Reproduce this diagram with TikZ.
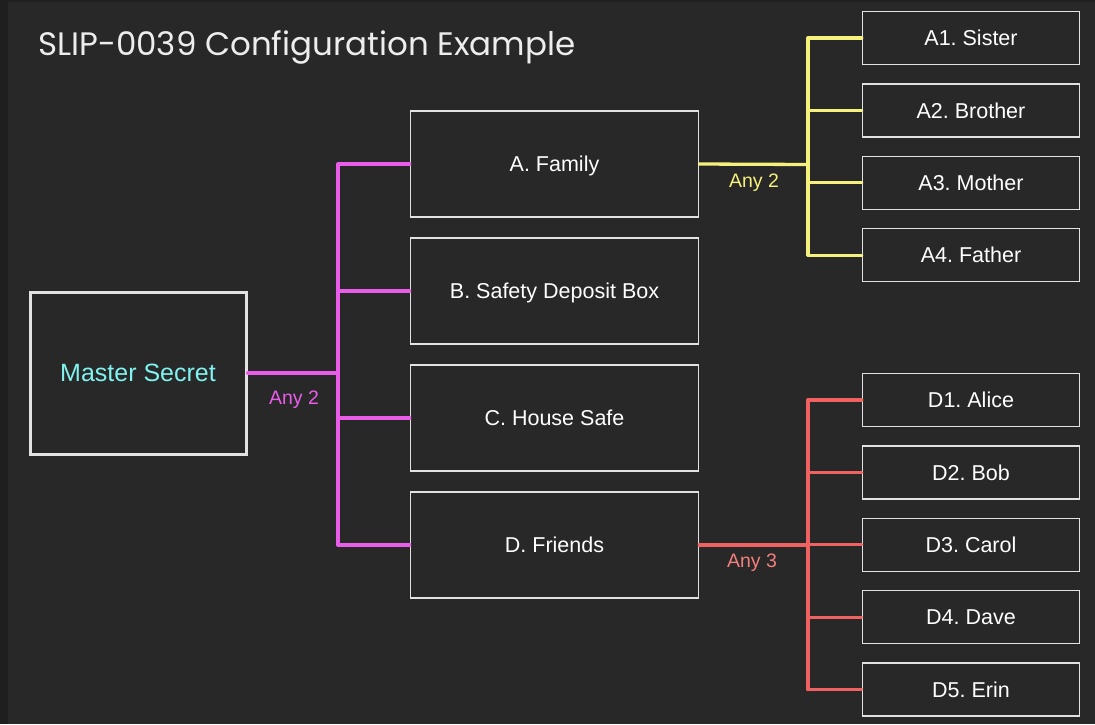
\documentclass[tikz,border=0pt]{standalone}
\usepackage{fontspec}
\setmainfont{Liberation Sans}
\newfontfamily\titlefont{Poppins}
\usetikzlibrary{positioning}
\frenchspacing

\definecolor{bgdark}{HTML}{1F1F1F}
\definecolor{bgpanel}{HTML}{282828}
\definecolor{boxline}{HTML}{E2E2E2}
\definecolor{secretcyan}{HTML}{80F2F0}
\definecolor{busmagenta}{HTML}{EA5CEA}
\definecolor{busyellow}{HTML}{F6F07C}
\definecolor{busred}{HTML}{F06262}
\definecolor{labelred}{HTML}{F47E7E}

\tikzset{
  share/.style={draw=boxline,line width=1.5pt,fill=bgpanel,text=white,
    font=\fontsize{21.5}{24}\selectfont,inner sep=0pt,
    text height=15.4pt,text depth=0pt},
  group/.style={share,minimum width=288pt,minimum height=106pt},
  member/.style={share,minimum width=217pt,minimum height=53pt},
  master/.style={share,line width=3pt,minimum width=216pt,minimum height=162pt,
    text=secretcyan,font=\fontsize{25}{28}\selectfont,text height=17.9pt},
  bus/.style={line width=3.3pt,line cap=round,line join=round},
  rule/.style={font=\fontsize{19.5}{22}\selectfont}
}

\begin{document}
\begin{tikzpicture}[x=1pt,y=-1pt,node distance=127pt,on grid]
    % page and panel
    \fill[bgdark] (0,0) rectangle (1095,724);
    \fill[bgpanel] (8,2) rectangle (1095,724);
    \useasboundingbox (0,0) rectangle (1095,724);

    \node[anchor=base west,text=white!93!black,inner sep=0pt,
      font=\titlefont\fontsize{32.5}{36}\selectfont] (title) at (38,55)
      {SLIP-0039 Configuration Example};

    % master secret and its four groups
    \node[master] (ms) at (138,373) {Master Secret};
    \node[group] (gb) at (554.5,291) {B. Safety Deposit Box};
    \node[group] (ga) [above=of gb] {A. Family};
    \node[group] (gc) [below=of gb] {C. House Safe};
    \node[group] (gd) [below=of gc] {D. Friends};

    % members of group A
    \node[member] (a1) at (971,38) {A1. Sister};
    \node[member] (a2) [below=72.4pt of a1] {A2. Brother};
    \node[member] (a3) [below=72.4pt of a2] {A3. Mother};
    \node[member] (a4) [below=72.4pt of a3] {A4. Father};

    % members of group D
    \node[member] (d1) at (971,400) {D1. Alice};
    \node[member] (d2) [below=72.4pt of d1] {D2. Bob};
    \node[member] (d3) [below=72.4pt of d2] {D3. Carol};
    \node[member] (d4) [below=72.4pt of d3] {D4. Dave};
    \node[member] (d5) [below=72.4pt of d4] {D5. Erin};

    % bus junctions
    \coordinate (jm) at (338,373);
    \coordinate (ja) at (808,164.5);
    \coordinate (jd) at (808,545);

    % top level threshold
    \draw[bus,busmagenta] (ms.east) -- (jm);
    \draw[bus,busmagenta] (jm |- ga.west) -- (jm |- gd.west);
    \foreach \g in {ga,gb,gc,gd}
      \draw[bus,busmagenta] (jm |- \g.west) -- (\g.west);
    \node[rule,text=busmagenta] (tm) at (294,400) {Any 2};

    % family threshold
    \draw[bus,busyellow] (ga.east) -- (ja);
    \draw[bus,busyellow] (ja |- a1.west) -- (ja |- a4.west);
    \foreach \m in {a1,a2,a3,a4}
      \draw[bus,busyellow] (ja |- \m.west) -- (\m.west);
    \node[rule,text=busyellow] (ta) at (754,183) {Any 2};

    % friends threshold
    \draw[bus,busred] (gd.east) -- (jd);
    \draw[bus,busred] (jd |- d1.west) -- (jd |- d5.west);
    \foreach \m in {d1,d2,d3,d4,d5}
      \draw[bus,busred] (jd |- \m.west) -- (\m.west);
    \node[rule,text=labelred] (td) at (752,563) {Any 3};
\end{tikzpicture}
\end{document}
